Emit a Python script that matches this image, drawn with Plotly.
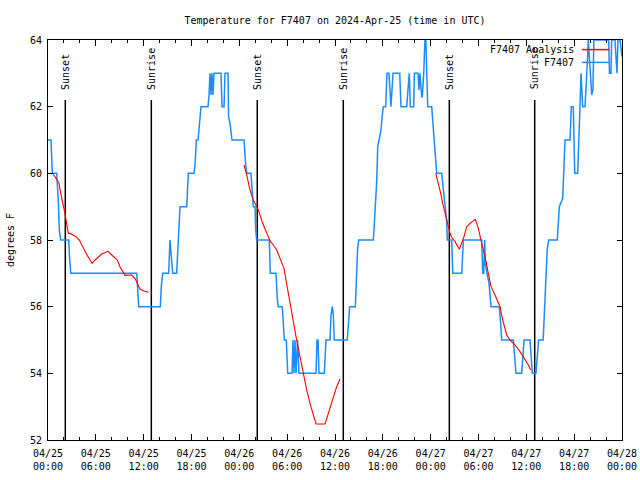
import pandas as pd
import plotly.graph_objects as go

# ---- data (hours since 2024-04-25 00:00 UTC, temperature in degrees F) ----
obs_hours = [0, 0.38, 0.54, 1.09, 1.29, 1.42, 1.59, 2.60, 2.67, 2.85, 11.13, 11.23, 11.38, 14.09, 14.21, 14.39,
             15.14, 15.30, 15.37, 15.64, 16.14, 16.31, 16.47, 16.56, 17.40, 17.60, 18.31, 18.44, 18.56, 18.60,
             18.82, 18.94, 19.07, 19.19, 20.07, 20.20, 20.32, 20.45, 20.57, 20.70, 20.82, 21.70, 21.83, 22.08,
             22.20, 22.58, 22.65, 22.83, 23.08, 24.59, 24.80, 24.93, 25.46, 25.63, 25.75, 25.97, 26.05, 26.18,
             27.76, 27.88, 28.60, 28.76, 28.89, 29.39, 29.52, 29.64, 29.89, 30.07, 30.61, 30.73, 30.86, 30.98,
             31.11, 31.30, 31.48, 33.62, 33.74, 33.87, 33.99, 34.66, 34.87, 35.37, 35.50, 35.66, 35.79, 35.91,
             37.54, 37.71, 37.84, 38.55, 38.67, 38.84, 38.97, 40.80, 40.89, 41.06, 41.23, 41.36, 41.52, 41.77,
             41.93, 42.06, 42.36, 42.52, 42.77, 42.90, 43.02, 43.15, 43.28, 44.12, 44.24, 44.28, 44.99, 45.20,
             45.32, 45.45, 45.87, 45.95, 46.41, 46.53, 46.66, 46.87, 46.95, 47.13, 47.23, 47.28, 47.40, 47.48,
             47.54, 47.63, 48.13, 48.30, 48.45, 48.60, 48.75, 49.38, 49.59, 49.80, 50.00, 50.09, 50.64, 50.77,
             51.90, 52.10, 54.40, 54.53, 54.65, 54.78, 54.86, 55.07, 55.32, 55.57, 56.61, 56.78, 56.91, 58.37,
             58.54, 58.70, 59.42, 59.58, 59.71, 60.46, 60.59, 60.75, 61.21, 61.37, 61.54, 62.11, 62.24, 62.38,
             62.50, 62.63, 62.81, 63.88, 64.01, 64.14, 64.56, 64.73, 64.85, 65.48, 65.64, 65.89, 66.07, 66.44,
             66.50, 66.73, 66.86, 66.95, 67.07, 67.36, 67.50, 67.65, 67.77, 68.20, 68.35, 68.47, 70.33, 70.43,
             70.62, 70.70, 71.12, 71.25, 71.37, 71.50, 71.75, 72.0]
obs_temps = [61, 61, 60, 60, 59.2, 58.3, 58, 58, 57.6, 57, 57, 56.6, 56, 56, 56.6, 57,
             57, 58, 57.8, 57, 57, 58, 58.7, 59, 59, 60, 60, 60.25, 60.75, 61,
             61, 61.4, 61.75, 62, 62, 62.35, 63, 62.35, 63, 62.35, 63, 63, 62, 62,
             63, 63, 61.7, 61.5, 61, 61, 60.25, 60, 60, 59.3, 59, 59, 58.3, 58,
             58, 57, 57, 56.25, 56, 56, 55.25, 55, 55, 54, 54, 55, 54, 55,
             54, 55, 54, 54, 55, 55, 54, 54, 55, 55, 55.75, 56, 55.75, 55,
             55, 55.75, 56, 56, 56.75, 57.75, 58, 58, 58.3, 59, 59.75, 60.8, 61, 61.3,
             61.75, 62, 62, 63, 63, 62.25, 62, 62.5, 63, 63, 62.25, 62, 62, 62.5,
             63, 62, 62, 63, 63, 62.5, 63, 62.3, 62.3, 63, 63.5, 64, 64, 63.5,
             62.8, 62, 62, 61.5, 61, 60.5, 60, 60, 59.45, 59, 58.6, 58, 58, 57,
             57, 58, 58, 57, 57, 58, 57.3, 57, 56.7, 56, 56, 55.5, 55, 55,
             54.5, 54, 54, 54.5, 55, 55, 54.5, 54, 54, 54.5, 55, 55, 55.75, 56.25,
             56.75, 57.75, 58, 58, 58.5, 59, 59.25, 60.75, 61, 61, 62, 62, 60, 60,
             60.35, 62, 63, 62.5, 62, 62, 62.5, 63.3, 64, 62.35, 62.5, 64, 64, 63,
             63, 64, 64, 63.35, 63, 64, 64, 63.5]

ana1_hours = [0.59, 1.09, 1.38, 1.59, 1.79, 2.13, 2.26, 2.42, 2.55, 2.76, 3.51, 3.93, 4.23, 4.77, 5.52, 5.90,
              6.74, 7.53, 7.99, 8.70, 9.03, 9.66, 10.50, 10.91, 11.20, 11.54, 12.04, 12.63]
ana1_temps = [60.0, 59.8, 59.7, 59.4, 59.2, 58.8, 58.6, 58.4, 58.2, 58.2, 58.1, 58.0, 57.85, 57.6, 57.3, 57.4,
              57.58, 57.66, 57.55, 57.4, 57.2, 56.94, 56.95, 56.85, 56.7, 56.52, 56.47, 56.43]
ana2_hours = [24.59, 24.93, 25.34, 25.75, 26.18, 26.38, 26.93, 27.43, 27.85, 28.26, 28.69, 29.10, 29.60, 29.85,
              30.27, 30.69, 31.11, 31.61, 32.02, 32.45, 32.86, 33.28, 33.62, 34.75, 35.16, 35.79, 36.21, 36.63]
ana2_temps = [60.25, 59.95, 59.5, 59.2, 59.0, 58.9, 58.5, 58.2, 57.98, 57.85, 57.7, 57.45, 57.15, 56.8,
              56.2, 55.7, 55.1, 54.5, 54.0, 53.5, 53.1, 52.75, 52.48, 52.48, 52.8, 53.3, 53.6, 53.83]
ana3_hours = [48.63, 48.96, 49.26, 49.51, 49.80, 50.09, 50.43, 50.64, 51.05, 51.59, 51.89, 52.18, 52.52, 52.93,
              53.60, 53.98, 54.40, 54.82, 55.23, 55.57, 56.07, 56.70, 57.04, 57.54, 57.95, 58.58, 59.21, 59.83,
              60.25, 60.55]
ana3_temps = [60.0, 59.7, 59.4, 59.1, 58.8, 58.5, 58.2, 58.08, 57.95, 57.72, 57.9, 58.1, 58.4, 58.5,
              58.62, 58.35, 57.9, 57.5, 57.0, 56.6, 56.35, 56.0, 55.6, 55.15, 55.0, 54.85, 54.65, 54.42,
              54.25, 54.1]

sun_hours = [2.17, 12.96, 26.25, 37.04, 50.34, 61.05]
sun_labels = ["Sunset", "Sunrise", "Sunset", "Sunrise", "Sunset", "Sunrise"]
sun_line_top = 62.2
sun_label_base = 62.45

tick_hours = [0, 6, 12, 18, 24, 30, 36, 42, 48, 54, 60, 66, 72]
tick_text = ["04/25<br>00:00", "04/25<br>06:00", "04/25<br>12:00", "04/25<br>18:00",
             "04/26<br>00:00", "04/26<br>06:00", "04/26<br>12:00", "04/26<br>18:00",
             "04/27<br>00:00", "04/27<br>06:00", "04/27<br>12:00", "04/27<br>18:00",
             "04/28<br>00:00"]
y_ticks = [52, 54, 56, 58, 60, 62, 64]

# ---- build ----
base = pd.Timestamp("2024-04-25 00:00")


def to_time(hours):
    return [base + pd.Timedelta(hours=h) for h in hours]


FONT = "DejaVu Sans Mono"
BLUE = "#1a8cff"
RED = "#ff0000"

fig = go.Figure()

for h in sun_hours:
    fig.add_trace(go.Scatter(x=to_time([h, h]), y=[sun_line_top, 52], mode="lines",
                             line=dict(color="black", width=1.5), hoverinfo="skip", showlegend=False))

fig.add_trace(go.Scatter(x=to_time(obs_hours), y=obs_temps, mode="lines", name="F7407",
                         line=dict(color=BLUE, width=1.5), showlegend=False))

ana_x = to_time(ana1_hours) + [None] + to_time(ana2_hours) + [None] + to_time(ana3_hours)
ana_y = ana1_temps + [None] + ana2_temps + [None] + ana3_temps
fig.add_trace(go.Scatter(x=ana_x, y=ana_y, mode="lines", name="F7407 Analysis",
                         line=dict(color=RED, width=1.1), connectgaps=False, showlegend=False))

annotations = []
for h, lab in zip(sun_hours, sun_labels):
    annotations.append(dict(x=to_time([h])[0], y=sun_label_base, xref="x", yref="y", text=lab,
                            textangle=-90, showarrow=False, xanchor="center", yanchor="bottom",
                            font=dict(family=FONT, size=10, color="black")))

# manual legend (text on the left of the sample, gnuplot style)
legend_items = [("F7407 Analysis", RED, 0.976), ("F7407", BLUE, 0.944)]
shapes = []
for text, col, yy in legend_items:
    annotations.append(dict(x=0.919, y=yy, xref="paper", yref="paper", text=text, showarrow=False,
                            xanchor="right", yanchor="middle", font=dict(family=FONT, size=10, color="black")))
    shapes.append(dict(type="line", xref="paper", yref="paper", x0=0.930, x1=0.978, y0=yy, y1=yy,
                       line=dict(color=col, width=1.5)))

# y-axis title placed like gnuplot's ylabel
annotations.append(dict(x=-0.066, y=0.5, xref="paper", yref="paper", text="degrees F", textangle=-90,
                        showarrow=False, xanchor="center", yanchor="middle",
                        font=dict(family=FONT, size=10, color="black")))

fig.update_layout(
    width=640, height=480,
    margin=dict(l=48, r=18, t=40, b=40, autoexpand=False),
    paper_bgcolor="white", plot_bgcolor="white",
    font=dict(family=FONT, size=10, color="black"),
    title=dict(text="Temperature for F7407 on 2024-Apr-25 (time in UTC)", x=0.5, xanchor="center",
               xref="paper", y=1 - 20 / 480, yanchor="middle", yref="container",
               font=dict(family=FONT, size=10, color="black")),
    annotations=annotations,
    shapes=shapes,
    showlegend=False,
)

fig.update_xaxes(
    type="date",
    range=[base, base + pd.Timedelta(hours=72)],
    tickmode="array", tickvals=to_time(tick_hours), ticktext=tick_text,
    ticks="inside", ticklen=6, tickcolor="black", tickwidth=1,
    minor=dict(dtick=2 * 3600 * 1000, tick0=base, ticks="inside", ticklen=3, tickcolor="black", showgrid=False),
    showline=True, linecolor="black", linewidth=1, mirror="ticks",
    showgrid=False, zeroline=False, automargin=False, ticklabelstandoff=4,
    tickfont=dict(family=FONT, size=10, color="black"),
)
fig.update_yaxes(
    range=[52, 64], tickmode="array", tickvals=y_ticks,
    ticks="inside", ticklen=5, tickcolor="black",
    showline=True, linecolor="black", linewidth=1, mirror="ticks",
    showgrid=False, zeroline=False, automargin=False, ticklabelstandoff=3,
    tickfont=dict(family=FONT, size=10, color="black"),
)

fig.write_html("out.html", config={"displayModeBar": False},
               post_script="document.body.style.margin='0';")
